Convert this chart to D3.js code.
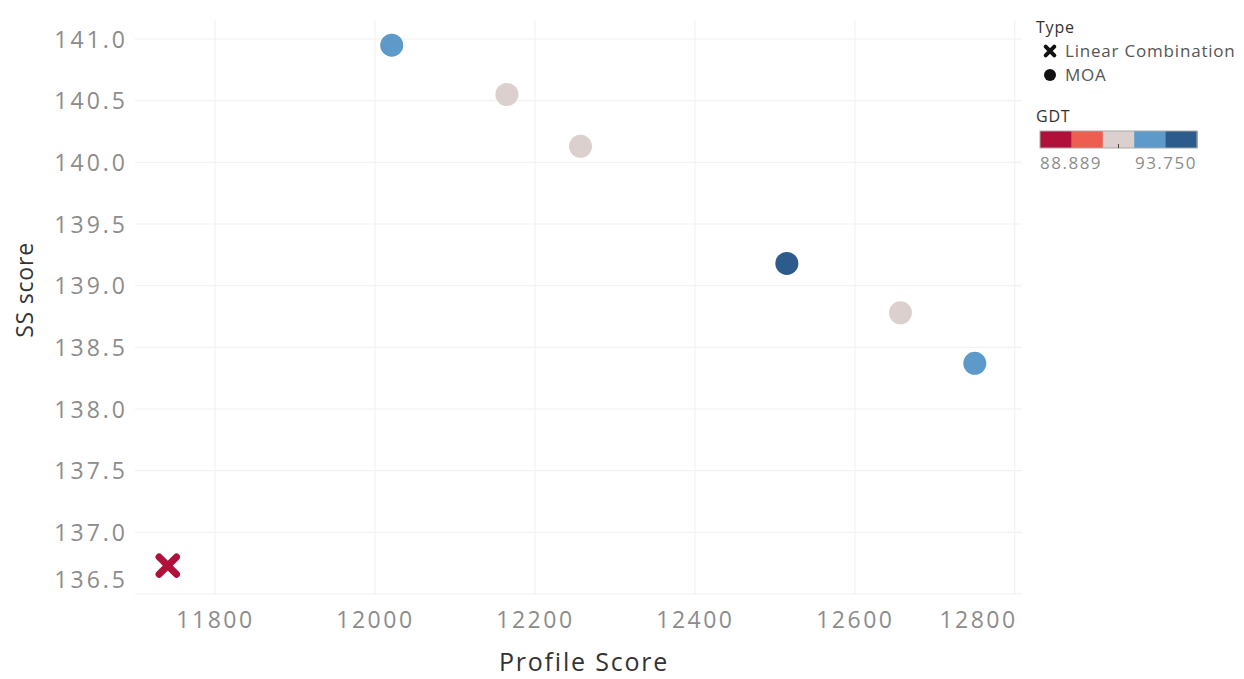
<!DOCTYPE html>
<html>
<head>
<meta charset="utf-8">
<script src="https://cdn.jsdelivr.net/npm/d3@7/dist/d3.min.js"></script>
<style>
  body { margin: 0; background: #fff; }
  svg text { font-family: "Open Sans", "Noto Sans", sans-serif; }
</style>
</head>
<body>
<svg id="chart" width="1244" height="679"></svg>
<script>
// data
const types = ['Linear Combination', 'MOA', 'MOA', 'MOA', 'MOA', 'MOA', 'MOA'];
const profileScore = [11741, 12021, 12165, 12257, 12515, 12657, 12750];
const ssScore = [136.73, 140.95, 140.55, 140.13, 139.18, 138.78, 138.37];
const gdt = [88.889, 92.361, 91.319, 91.319, 93.750, 91.319, 92.708];

const xTicks = [11800, 12000, 12200, 12400, 12600, 12800];
const yTicks = [141.0, 140.5, 140.0, 139.5, 139.0, 138.5, 138.0, 137.5, 137.0, 136.5];
const gdtColors = ['#b0103a', '#ee5d4f', '#dcd0cf', '#5e9ac9', '#2d5b8c'];
const gdtRange = [88.889, 93.750];

const svg = d3.select('#chart');

const plot = {left: 135, right: 1022, top: 20, bottom: 594};

const x = d3.scaleLinear()
    .domain([11700, 12809])
    .range([plot.left, plot.right]);

const y = d3.scaleLinear()
    .domain([136.5, 141.0])
    .range([plot.bottom, 39]);

const color = d3.scaleQuantize()
    .domain(gdtRange)
    .range(gdtColors);

// grid
let grid = svg.append('g');
grid.selectAll('.hg').data(yTicks).enter().append('line')
    .attr('x1', plot.left).attr('x2', plot.right)
    .attr('y1', d => y(d)).attr('y2', d => y(d))
    .attr('stroke', '#f2f2f2').attr('stroke-width', 1.2);
grid.selectAll('.vg').data(xTicks).enter().append('line')
    .attr('x1', d => x(d)).attr('x2', d => x(d))
    .attr('y1', plot.top).attr('y2', plot.bottom)
    .attr('stroke', '#f2f2f2').attr('stroke-width', 1.2);

// axes
let yAxis = svg.append('g')
    .attr('transform', 'translate(' + (plot.left - 7) + ',0)')
    .call(d3.axisLeft(y).tickValues(yTicks).tickFormat(d3.format('.1f')).tickSize(0).tickPadding(0));
yAxis.select('.domain').remove();
yAxis.selectAll('text')
    .attr('fill', '#8c8c8c')
    .style('font-size', '23px')
    .style('letter-spacing', '3px')
    .attr('dy', '0.35em')
    .attr('y', d => Math.min(y(d), 579) - y(d));

let xAxis = svg.append('g')
    .attr('transform', 'translate(0,' + plot.bottom + ')')
    .call(d3.axisBottom(x).tickValues(xTicks).tickFormat(d3.format('d')).tickSize(0).tickPadding(0));
xAxis.select('.domain').remove();
xAxis.selectAll('text')
    .attr('fill', '#8c8c8c')
    .style('font-size', '23px')
    .style('letter-spacing', '2.5px')
    .attr('dy', '0.35em')
    .attr('y', 26)
    .attr('x', d => Math.min(x(d), 978) - x(d));

// axis titles
svg.append('text')
    .attr('x', 584).attr('y', 662)
    .attr('dy', '0.35em')
    .attr('text-anchor', 'middle')
    .attr('fill', '#333')
    .style('font-size', '25px')
    .style('letter-spacing', '1.8px')
    .text('Profile Score');

svg.append('text')
    .attr('transform', 'translate(25,290) rotate(-90)')
    .attr('dy', '0.35em')
    .attr('text-anchor', 'middle')
    .attr('fill', '#333')
    .style('font-size', '23px')
    .style('letter-spacing', '0.8px')
    .text('SS score');

// marks
const idx = d3.range(profileScore.length);
const cross = d3.symbol().type(d3.symbolX).size(200);

svg.append('g').selectAll('path').data(idx.filter(i => types[i] === 'Linear Combination'))
    .enter().append('path')
    .attr('transform', i => 'translate(' + x(profileScore[i]) + ',' + y(ssScore[i]) + ')')
    .attr('d', cross)
    .attr('stroke', i => color(gdt[i]))
    .attr('stroke-width', 7)
    .attr('stroke-linecap', 'round')
    .attr('fill', 'none');

svg.append('g').selectAll('circle').data(idx.filter(i => types[i] === 'MOA'))
    .enter().append('circle')
    .attr('cx', i => x(profileScore[i]))
    .attr('cy', i => y(ssScore[i]))
    .attr('r', 11.5)
    .attr('fill', i => color(gdt[i]));

// legend: Type
let legend = svg.append('g');
legend.append('text')
    .attr('x', 1036).attr('y', 27).attr('dy', '0.35em')
    .attr('fill', '#333').style('font-size', '16px').style('letter-spacing', '0.8px')
    .text('Type');

const legendTypes = ['Linear Combination', 'MOA'];
legendTypes.forEach(function (t, i) {
    const ly = 51 + i * 24;
    if (t === 'Linear Combination') {
        legend.append('path')
            .attr('transform', 'translate(1050,' + ly + ')')
            .attr('d', d3.symbol().type(d3.symbolX).size(50))
            .attr('stroke', '#111').attr('stroke-width', 4)
            .attr('stroke-linecap', 'round').attr('fill', 'none');
    } else {
        legend.append('circle')
            .attr('cx', 1050).attr('cy', ly).attr('r', 6)
            .attr('fill', '#111');
    }
    legend.append('text')
        .attr('x', 1065).attr('y', ly).attr('dy', '0.35em')
        .attr('fill', '#555').style('font-size', '17px').style('letter-spacing', '0.8px')
        .text(t);
});

// legend: GDT
legend.append('text')
    .attr('x', 1036).attr('y', 116).attr('dy', '0.35em')
    .attr('fill', '#333').style('font-size', '16px').style('letter-spacing', '0.8px')
    .text('GDT');

const bar = d3.scaleBand().domain(d3.range(gdtColors.length)).range([1040, 1197]);
legend.selectAll('.sw').data(gdtColors).enter().append('rect')
    .attr('x', (d, i) => bar(i)).attr('y', 131)
    .attr('width', bar.bandwidth() + 0.5).attr('height', 17)
    .attr('fill', d => d);
legend.append('rect')
    .attr('x', 1040).attr('y', 131).attr('width', 157).attr('height', 17)
    .attr('fill', 'none').attr('stroke', '#aaa').attr('stroke-width', 1);
legend.append('line')
    .attr('x1', 1118.5).attr('x2', 1118.5).attr('y1', 144).attr('y2', 148)
    .attr('stroke', '#444');

legend.append('text')
    .attr('x', 1040).attr('y', 163).attr('dy', '0.35em')
    .attr('fill', '#8c8c8c').style('font-size', '17px').style('letter-spacing', '1.5px')
    .text(d3.format('.3f')(gdtRange[0]));
legend.append('text')
    .attr('x', 1197).attr('y', 163).attr('dy', '0.35em')
    .attr('text-anchor', 'end')
    .attr('fill', '#8c8c8c').style('font-size', '17px').style('letter-spacing', '1.5px')
    .text(d3.format('.3f')(gdtRange[1]));
</script>
</body>
</html>
